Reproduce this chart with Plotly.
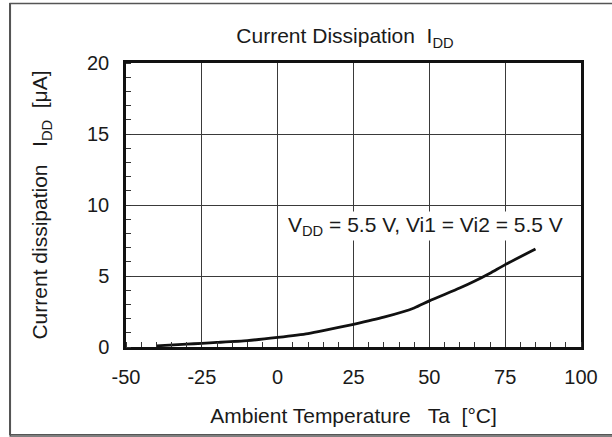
import plotly.graph_objects as go

temp_c = [-40, -30, -25, -20, -10, 0, 10, 15, 25, 35, 45, 50, 60, 65, 70, 75, 85]
idd_ua = [0.08, 0.2, 0.26, 0.32, 0.45, 0.68, 0.95, 1.15, 1.6, 2.1, 2.75, 3.25, 4.15, 4.65, 5.2, 5.8, 6.9]

x_ticks = [-50, -25, 0, 25, 50, 75, 100]
y_ticks = [0, 5, 10, 15, 20]

title_text = "Current Dissipation  I<sub>DD</sub>"
x_title = "Ambient Temperature   Ta  [°C]"
y_title = "Current dissipation   I<sub>DD</sub>  [μA]"
note_text = "V<sub>DD</sub> = 5.5 V, Vi1 = Vi2 = 5.5 V"

FONT = "Liberation Sans, Arial, sans-serif"
TXT = "#1a1a1a"
FS = 21
TFS = 20

fig = go.Figure()
fig.add_trace(go.Scatter(x=temp_c, y=idd_ua, mode="lines",
                         line=dict(color="#111111", width=2.8, shape="spline", smoothing=0.6),
                         showlegend=False, hoverinfo="skip"))

W, H = 612, 437
L, R, T, B = 125.5, 30.5, 63, 90
pw, ph = W - L - R, H - T - B

fig.update_layout(
    width=W, height=H,
    margin=dict(l=L, r=R, t=T, b=B, autoexpand=False),
    paper_bgcolor="white", plot_bgcolor="white",
    font=dict(family=FONT, size=FS, color=TXT),
    title=dict(text=title_text, x=(345 - L) / pw, xref="paper", xanchor="center",
               y=1 - 36 / H, yanchor="middle", yref="container",
               font=dict(family=FONT, size=FS, color=TXT)),
    showlegend=False,
)

fig.update_xaxes(
    range=[-50, 100], tickvals=x_ticks, ticktext=[str(v) for v in x_ticks],
    showgrid=True, gridcolor="#3a3a3a", gridwidth=1,
    showline=True, linecolor="#111111", linewidth=2.5, mirror=True,
    ticks="", zeroline=False,
    minor=dict(dtick=5, tick0=-50, ticks="inside", ticklen=5, tickcolor="#333333", tickwidth=1, showgrid=False),
    tickfont=dict(family=FONT, size=TFS, color=TXT),
    ticklabelstandoff=10,
    title=dict(text=x_title, font=dict(family=FONT, size=FS, color=TXT), standoff=22),
)
fig.update_yaxes(
    range=[0, 20], tickvals=y_ticks, ticktext=[str(v) for v in y_ticks],
    showgrid=True, gridcolor="#3a3a3a", gridwidth=1,
    showline=True, linecolor="#111111", linewidth=2.5, mirror=True,
    ticks="", zeroline=False,
    minor=dict(dtick=1, tick0=0, ticks="inside", ticklen=5, tickcolor="#333333", tickwidth=1, showgrid=False),
    tickfont=dict(family=FONT, size=TFS, color=TXT),
    ticklabelstandoff=10,
    title=dict(text=y_title, font=dict(family=FONT, size=FS, color=TXT), standoff=34),
)

fig.add_annotation(text=note_text, x=(426 - L) / pw, y=(347 - 226) / ph, xref="paper", yref="paper",
                   showarrow=False, xanchor="center", yanchor="middle",
                   font=dict(family=FONT, size=FS, color=TXT), bgcolor="white")

# outer frame around the whole figure: a transparent rectangle drawn as a layout shape
fx0, fx1 = (9.5 - L) / pw, (W + 5 - L) / pw
fy0, fy1 = (347 - 436) / ph, (347 - 3.5) / ph
fig.add_shape(type="rect", xref="paper", yref="paper", x0=fx0, x1=fx1, y0=fy0, y1=fy1,
              line=dict(color="#555555", width=1.6), fillcolor="rgba(0,0,0,0)", layer="above")

post = """
document.body.style.margin='0';
document.body.style.padding='0';
var f=document.createElement('div');
f.style.cssText='position:absolute;left:9px;top:2.5px;width:700px;height:432.5px;border:1.5px solid #555;pointer-events:none;box-sizing:border-box;';
document.body.appendChild(f);
"""
fig.write_html("out.html", config={"displayModeBar": False}, post_script=post)
